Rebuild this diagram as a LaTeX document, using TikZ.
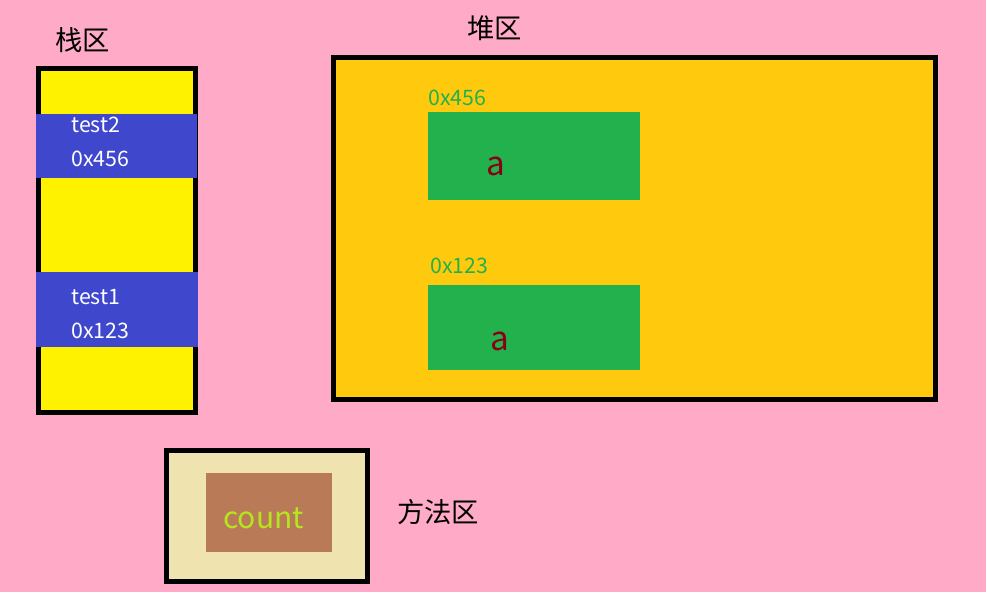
\documentclass[tikz,border=0pt]{standalone}
\usepackage{fontspec}
\setmainfont{Noto Sans CJK SC}
\definecolor{bgpink}{HTML}{FFABC8}
\definecolor{stackyellow}{HTML}{FFF200}
\definecolor{heapgold}{HTML}{FFC90E}
\definecolor{bandblue}{HTML}{3F48CC}
\definecolor{objgreen}{HTML}{22B14C}
\definecolor{darkred}{HTML}{880015}
\definecolor{methodbeige}{HTML}{EFE4B0}
\definecolor{countbrown}{HTML}{B97A57}
\definecolor{countlime}{HTML}{B5E61D}
\begin{document}
\begin{tikzpicture}[x=0.75pt,y=-0.75pt,
  areabox/.style={draw=black,line width=3.75pt},
  title/.style={anchor=west,inner sep=0pt,font=\fontsize{20.5pt}{24pt}\selectfont,text=black},
  stacktext/.style={anchor=west,inner sep=0pt,font=\fontsize{16pt}{19pt}\selectfont,text=white},
  addrtext/.style={anchor=west,inner sep=0pt,font=\fontsize{16pt}{19pt}\selectfont,text=objgreen},
  fieldtext/.style={anchor=west,inner sep=0pt,font=\fontsize{25pt}{29pt}\selectfont,text=darkred}]
\fill[bgpink] (0,0) rectangle (986,592);
\useasboundingbox (0,0) rectangle (986,592);
% stack
\fill[stackyellow] (38.5,68.5) rectangle (195.5,412.5);
\draw[areabox] (38.5,68.5) rectangle (195.5,412.5);
\fill[bandblue] (36,114) rectangle (197,178);
\fill[bandblue] (36,272) rectangle (198,347);
\node[title] (stacktitle) at (55,40) {栈区};
\node[stacktext] (t2) at (71,125) {test2};
\node[stacktext] (t2addr) at (71,159) {0x456};
\node[stacktext] (t1) at (71,297) {test1};
\node[stacktext] (t1addr) at (71,331) {0x123};
% heap
\fill[heapgold] (333.5,57.5) rectangle (935.5,399.5);
\draw[areabox] (333.5,57.5) rectangle (935.5,399.5);
\node[title] (heaptitle) at (467,28) {堆区};
\fill[objgreen] (428,112) rectangle (640,200);
\fill[objgreen] (428,285) rectangle (640,370);
\node[addrtext] (h2addr) at (428,98) {0x456};
\node[addrtext] (h1addr) at (430,266) {0x123};
\node[fieldtext] (h2a) at (486,166) {a};
\node[fieldtext] (h1a) at (490,341) {a};
% method area
\fill[methodbeige] (166.5,450.5) rectangle (367.5,581.5);
\draw[areabox] (166.5,450.5) rectangle (367.5,581.5);
\fill[countbrown] (206,473) rectangle (332,552);
\node[anchor=west,inner sep=0pt,font=\fontsize{22.5pt}{27pt}\selectfont,text=countlime] (count) at (223,518) {count};
\node[title] (methodtitle) at (397,512) {方法区};
\end{tikzpicture}
\end{document}
